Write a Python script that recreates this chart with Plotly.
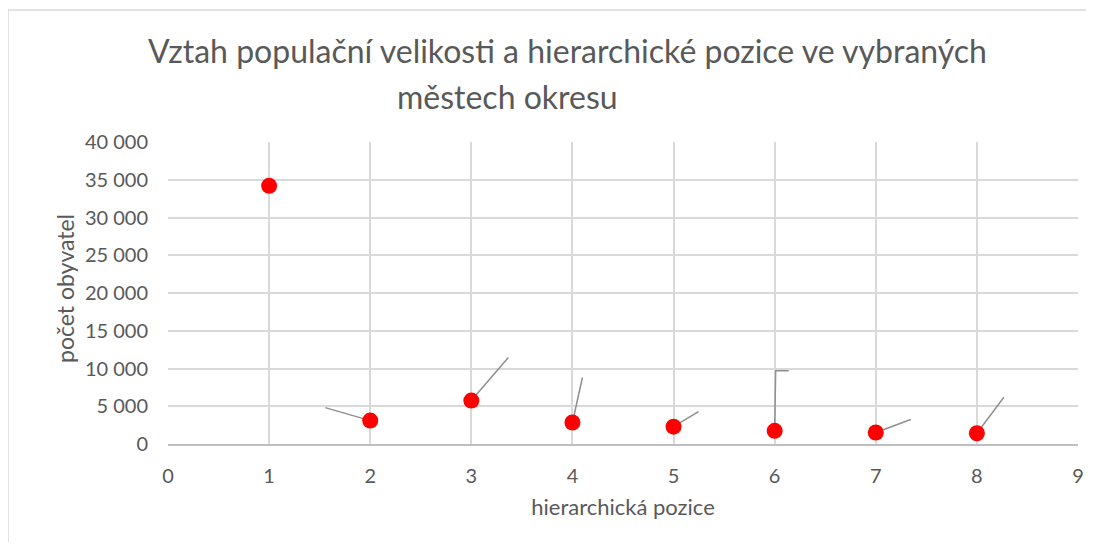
import plotly.graph_objects as go

# hierarchical position vs population
positions = [1, 2, 3, 4, 5, 6, 7, 8]
population = [34200, 3100, 5750, 2850, 2300, 1750, 1520, 1420]
x_ticks = [0, 1, 2, 3, 4, 5, 6, 7, 8, 9]
y_ticks = [0, 5000, 10000, 15000, 20000, 25000, 30000, 35000, 40000]

title_line1 = "Vztah populační velikosti a hierarchické pozice ve vybraných"
title_line2 = "městech okresu"
x_title = "hierarchická pozice"
y_title = "počet obyvatel"

# leader-line offsets (pixels) from each point toward its (hidden) label
leader_paths = [
    None,
    "M0,0 L-45,13",
    "M0,0 L37,43",
    "M0,0 L10,45",
    "M0,0 L25,15",
    "M0,0 L1,60 L14,60",
    "M0,0 L35,13",
    "M0,0 L27,36",
]

FONT = "Lato"
TXT = "#595959"
GRID = "#d9d9d9"

# page body adds an 8px offset; figure sized to fill the 1094x550 window
W, H = 1078, 534
L, R, T, B = 160, 8, 134, 98
pw, ph = W - L - R, H - T - B

fig = go.Figure()
fig.add_trace(go.Scatter(
    x=positions, y=population, mode="markers",
    marker=dict(color="#ff0000", size=16, line=dict(width=0)),
    showlegend=False, cliponaxis=False,
))

shapes = []
for xv, yv, p in zip(positions, population, leader_paths):
    if p is None:
        continue
    shapes.append(dict(
        type="path", xref="x", yref="y",
        xsizemode="pixel", ysizemode="pixel",
        xanchor=xv, yanchor=yv, path=p,
        line=dict(color="#8f8f8f", width=1.5), layer="between",
    ))
# outer chart frame (left and top edges visible)
shapes.append(dict(type="rect", xref="paper", yref="paper",
                   x0=(0 - L) / pw, x1=1.1, y0=-0.6, y1=(ph + T - 2) / ph,
                   line=dict(color="#d9d9d9", width=1.5), fillcolor="rgba(0,0,0,0)",
                   layer="below"))

fig.update_layout(
    width=W, height=H,
    margin=dict(l=L, r=R, t=T, b=B, autoexpand=False),
    paper_bgcolor="white", plot_bgcolor="white",
    separators=", ",
    font=dict(family=FONT, color=TXT),
    shapes=shapes,
    annotations=[
        dict(text=title_line1, xref="paper", yref="paper", x=(559 - L) / pw,
             y=(ph + T - 42) / ph,
             xanchor="center", yanchor="middle", showarrow=False,
             font=dict(size=32, color=TXT, family=FONT)),
        dict(text=title_line2, xref="paper", yref="paper", x=(499 - L) / pw,
             y=(ph + T - 88) / ph,
             xanchor="center", yanchor="middle", showarrow=False,
             font=dict(size=32, color=TXT, family=FONT)),
        dict(text=y_title, xref="paper", yref="paper", x=(57 - L) / pw,
             y=(ph + T - 281) / ph, textangle=-90,
             xanchor="center", yanchor="middle", showarrow=False,
             font=dict(size=23, color=TXT, family=FONT)),
    ],
)
fig.update_xaxes(
    range=[0, 9], tickvals=x_ticks, showgrid=True, gridcolor=GRID, gridwidth=1.5,
    zeroline=False, showline=True, linecolor="#bfbfbf", linewidth=1.5,
    ticks="", ticklabelstandoff=13, tickfont=dict(size=20, color=TXT),
    title=dict(text=x_title, font=dict(size=22, color=TXT), standoff=14),
    automargin=False, fixedrange=True,
)
fig.update_yaxes(
    range=[0, 40000], tickvals=y_ticks, tickformat=",d", showgrid=True,
    gridcolor=GRID, gridwidth=1.5, zeroline=False, showline=False,
    ticks="", ticklabelstandoff=19, tickfont=dict(size=20, color=TXT),
    automargin=False, fixedrange=True,
)

fig.write_html("out.html")
